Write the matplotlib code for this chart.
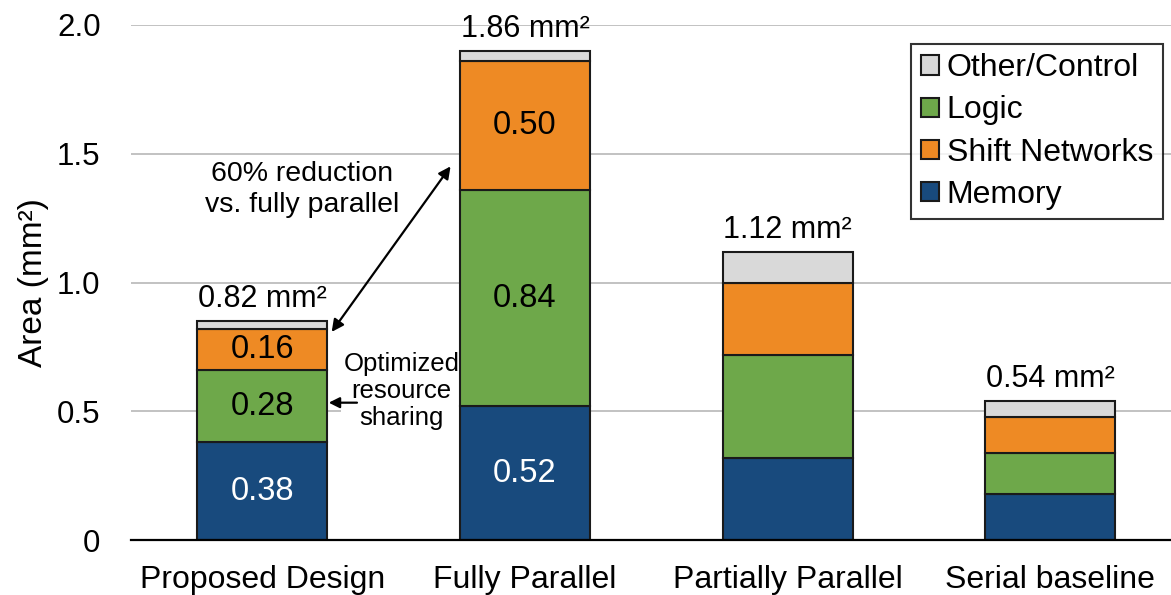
import matplotlib.pyplot as plt
import numpy as np

plt.rcParams['font.family'] = ['Liberation Sans', 'DejaVu Sans']

# data
designs = ["Proposed Design", "Fully Parallel", "Partially Parallel", "Serial baseline"]
memory = [0.38, 0.52, 0.32, 0.18]
logic = [0.28, 0.84, 0.40, 0.16]
shift = [0.16, 0.50, 0.28, 0.14]
other = [0.03, 0.04, 0.12, 0.06]
total_labels = ["0.82", "1.86", "1.12", "0.54"]
show_values = [True, True, False, False]

colors = {"Memory": "#184a7d", "Shift Networks": "#ee8a24",
          "Logic": "#6ea84a", "Other/Control": "#d9d9d9"}
text_colors = {"Memory": "white", "Shift Networks": "black",
               "Logic": "black", "Other/Control": "black"}

fig = plt.figure(figsize=(11.71, 5.95), dpi=100)
ax = fig.add_axes([0.112, 0.092, 0.888, 0.866])

x = np.arange(len(designs))
w = 0.495
bottom = np.zeros(len(designs))
bars = {}
for name, vals in [("Memory", memory), ("Logic", logic),
                   ("Shift Networks", shift), ("Other/Control", other)]:
    vals = np.array(vals)
    bars[name] = ax.bar(x, vals, w, bottom=bottom, color=colors[name],
                        edgecolor="#1a1a1a", linewidth=1.5, zorder=3, label=name)
    if name != "Other/Control":
        for i in range(len(designs)):
            if show_values[i]:
                ax.text(x[i], bottom[i] + vals[i] / 2, f"{vals[i]:.2f}",
                        ha="center", va="center", fontsize=23.5,
                        color=text_colors[name], zorder=4)
    bottom = bottom + vals

# totals above the bars
for i in range(len(designs)):
    ax.annotate(f"{total_labels[i]} mm\u00b2", (x[i], bottom[i]),
                xytext=(0, 5), textcoords="offset points",
                ha="center", va="bottom", fontsize=22)

# 60% reduction arrow between the two bars
prop_top = memory[0] + logic[0] + shift[0]
ax.annotate("", xy=(x[0] + w / 2 + 0.01, prop_top - 0.02),
            xytext=(x[1] - w / 2 - 0.03, memory[1] + logic[1] + 0.1),
            arrowprops=dict(arrowstyle="<|-|>", color="black", lw=1.6,
                            mutation_scale=18), zorder=5)
ax.text(0.15, 1.36, "60% reduction\nvs. fully parallel", ha="center",
        va="center", fontsize=20.5, linespacing=1.25)

# resource sharing note
share_y = memory[0] + logic[0] * 0.55
ax.annotate("", xy=(x[0] + w / 2 + 0.005, share_y),
            xytext=(0.36, share_y),
            arrowprops=dict(arrowstyle="-|>", color="black", lw=1.6,
                            mutation_scale=16, shrinkA=0, shrinkB=0),
            zorder=5)
ax.text(0.53, share_y + 0.045, "Optimized\nresource\nsharing",
        ha="center", va="center", fontsize=18.5, linespacing=1.15,
        bbox=dict(boxstyle="square,pad=0.1", fc="white", ec="none"),
        zorder=2.5)

ax.set_xlim(-0.5, 3.46)
ax.set_ylim(0, 2.0)
ax.set_yticks([0, 0.5, 1.0, 1.5, 2.0])
ax.set_yticklabels(["0", "0.5", "1.0", "1.5", "2.0"])
ax.set_xticks(x)
ax.set_xticklabels(designs)
ax.tick_params(axis="y", length=0, pad=22, labelsize=22.5)
ax.tick_params(axis="x", length=0, pad=18, labelsize=23)
ax.set_ylabel("Area (mm\u00b2)", fontsize=24, labelpad=6)

ax.grid(axis="y", color="#bdbdbd", linewidth=1.3, zorder=0)
for s in ["top", "right", "left"]:
    ax.spines[s].set_visible(False)
ax.spines["bottom"].set_linewidth(1.6)
ax.spines["bottom"].set_zorder(4)

handles = [bars[n] for n in ["Other/Control", "Logic", "Shift Networks", "Memory"]]
leg = ax.legend(handles, ["Other/Control", "Logic", "Shift Networks", "Memory"],
                loc="upper right", bbox_to_anchor=(0.998, 0.976), fontsize=23,
                frameon=True, fancybox=False, edgecolor="black",
                handlelength=0.55, handleheight=0.55, handletextpad=0.25,
                labelspacing=0.38, borderpad=0.3, borderaxespad=0.2)
leg.get_frame().set_linewidth(1.5)

fig.savefig("out.png", dpi=100)
